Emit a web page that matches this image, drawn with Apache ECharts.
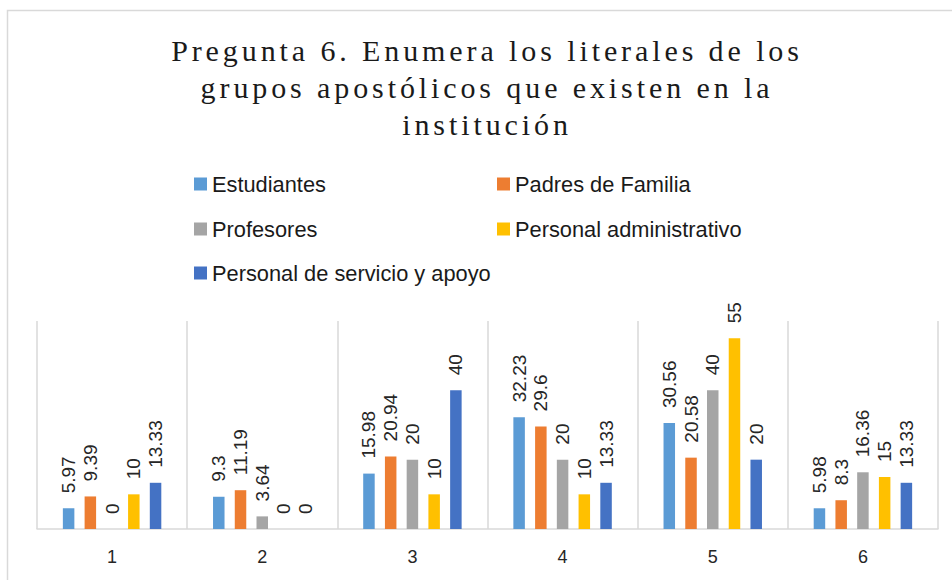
<!DOCTYPE html>
<html>
<head>
<meta charset="utf-8">
<script src="https://cdn.jsdelivr.net/npm/echarts@6/dist/echarts.min.js"></script>
<style>
  html, body { margin: 0; padding: 0; background: #fff; }
  #chart { width: 952px; height: 580px; }
  /* the reference title is letter-spaced */
  #chart text[style*="Serif"] { letter-spacing: 3.9px; }
</style>
</head>
<body>
<div id="chart"></div>
<script>
const categories = ['1', '2', '3', '4', '5', '6'];
const estudiantes = [5.97, 9.3, 15.98, 32.23, 30.56, 5.98];
const padres = [9.39, 11.19, 20.94, 29.6, 20.58, 8.3];
const profesores = [0, 3.64, 20, 20, 40, 16.36];
const administrativo = [10, 0, 10, 10, 55, 15];
const servicio = [13.33, 0, 40, 13.33, 20, 13.33];

const names = ['Estudiantes', 'Padres de Familia', 'Profesores', 'Personal administrativo', 'Personal de servicio y apoyo'];
const colors = ['#5B9BD5', '#ED7D31', '#A5A5A5', '#FFC000', '#4472C4'];
const values = [estudiantes, padres, profesores, administrativo, servicio];

// legend position for each series (two columns like Excel)
const legendPos = [[194, 173], [497, 173], [194, 218], [497, 218], [194, 262]];

let myChart = echarts.init(document.getElementById('chart'), null, { renderer: 'svg' });

let option = {
  animation: false,
  backgroundColor: '#fff',
  color: colors,
  title: {
    text: 'Pregunta 6. Enumera los literales de los\ngrupos apostólicos que existen en la\ninstitución',
    left: 482,
    top: 27,
    textAlign: 'center',
    textStyle: {
      fontFamily: 'Liberation Serif',
      fontSize: 30,
      fontWeight: 'normal',
      lineHeight: 37,
      color: '#1a1a1a'
    }
  },
  legend: names.map((n, i) => ({
    data: [n],
    left: legendPos[i][0],
    top: legendPos[i][1],
    padding: 0,
    icon: 'rect',
    itemWidth: 13,
    itemHeight: 13,
    itemGap: 5,
    selectedMode: false,
    textStyle: { fontFamily: 'Liberation Sans', fontSize: 21.8, color: '#1a1a1a' }
  })),
  graphic: [{
    type: 'rect',
    shape: { x: 7.5, y: 10.5, width: 1000, height: 1000 },
    style: { fill: 'none', stroke: '#d9d9d9', lineWidth: 1.5 },
    silent: true
  }],
  grid: { left: 37, right: 14, top: 321, bottom: 51 },
  xAxis: {
    type: 'category',
    data: categories,
    axisLine: { lineStyle: { color: '#d9d9d9', width: 1.5 } },
    axisTick: { show: false },
    splitLine: { show: true, lineStyle: { color: '#d9d9d9', width: 1.5 } },
    axisLabel: { fontFamily: 'Liberation Sans', fontSize: 18, color: '#262626', margin: 19 }
  },
  yAxis: {
    type: 'value',
    min: 0,
    max: 60,
    show: false,
    splitLine: { show: false }
  },
  series: names.map((n, i) => ({
    name: n,
    type: 'bar',
    data: values[i],
    barWidth: 11.5,
    barGap: '89%',
    itemStyle: { color: colors[i] },
    label: {
      show: true,
      position: 'top',
      rotate: 90,
      align: 'left',
      verticalAlign: 'middle',
      distance: 15,
      fontFamily: 'Liberation Sans',
      fontSize: 19,
      color: '#262626'
    }
  }))
};

myChart.setOption(option);
</script>
</body>
</html>
